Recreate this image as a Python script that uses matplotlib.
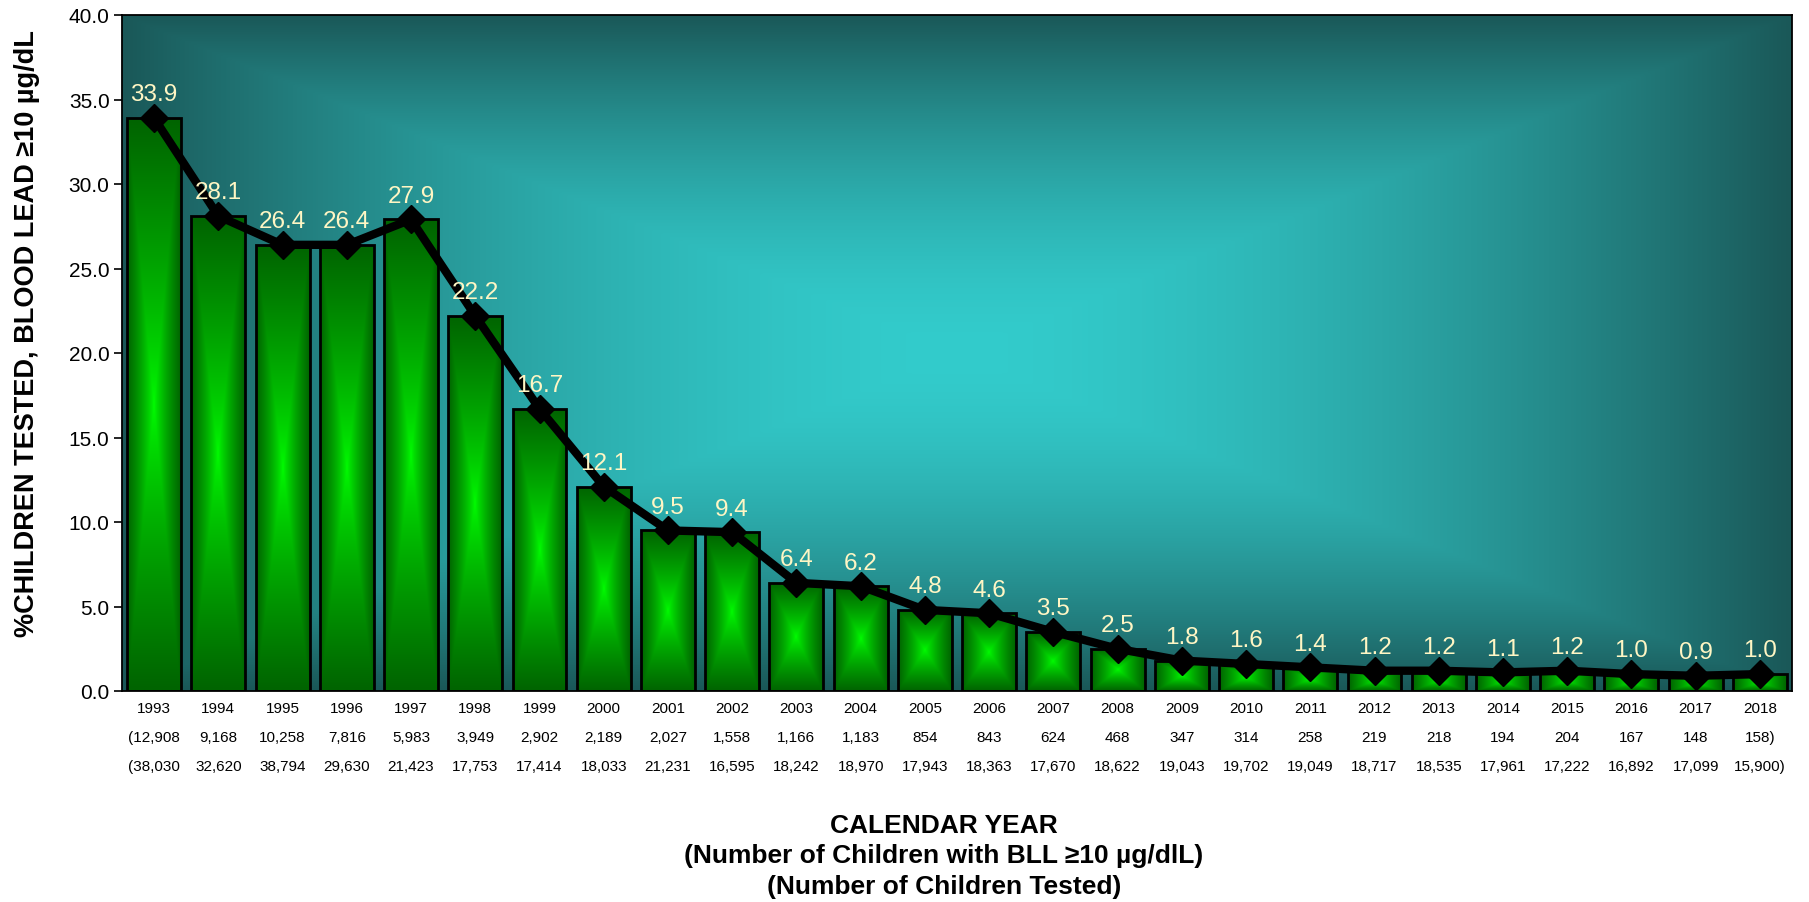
import numpy as np
import matplotlib
matplotlib.use("Agg")
import matplotlib.pyplot as plt
from matplotlib.colors import to_rgb

years = list(range(1993, 2019))
pct = [33.9, 28.1, 26.4, 26.4, 27.9, 22.2, 16.7, 12.1, 9.5, 9.4, 6.4, 6.2, 4.8,
       4.6, 3.5, 2.5, 1.8, 1.6, 1.4, 1.2, 1.2, 1.1, 1.2, 1.0, 0.9, 1.0]
n_elevated = [12908, 9168, 10258, 7816, 5983, 3949, 2902, 2189, 2027, 1558, 1166,
              1183, 854, 843, 624, 468, 347, 314, 258, 219, 218, 194, 204, 167,
              148, 158]
n_tested = [38030, 32620, 38794, 29630, 21423, 17753, 17414, 18033, 21231, 16595,
            18242, 18970, 17943, 18363, 17670, 18622, 19043, 19702, 19049, 18717,
            18535, 17961, 17222, 16892, 17099, 15900]

plt.rcParams['font.family'] = ['Liberation Sans', 'DejaVu Sans']

fig = plt.figure(figsize=(18.09, 9.03), dpi=100)
ax = fig.add_axes([122/1809, 1-692/903, 1670/1809, 676/903])

def path_gradient(nx, ny, c_center, c_edge, gamma=1.0):
    u = np.linspace(-1, 1, nx)
    v = np.linspace(-1, 1, ny)
    U, V = np.meshgrid(u, v)
    t = np.maximum(np.abs(U), np.abs(V)) ** gamma
    c0 = np.array(to_rgb(c_center))
    c1 = np.array(to_rgb(c_edge))
    return c0[None, None, :] * (1 - t[..., None]) + c1[None, None, :] * t[..., None]

# background
bg = path_gradient(400, 300, '#33CCCC', '#1A5858', gamma=1.7)
ax.imshow(bg, extent=(0, 1, 0, 1), transform=ax.transAxes, aspect='auto',
          zorder=0, interpolation='bilinear')

x = np.arange(len(years))
width = 0.84
bars = ax.bar(x, pct, width=width, facecolor='none', edgecolor='black',
              linewidth=2.0, zorder=3)
for b, xi, h in zip(bars, x, pct):
    g = path_gradient(60, 120, '#00FF00', '#006400', gamma=0.75)
    im = ax.imshow(g, extent=(xi - width/2, xi + width/2, 0, h), origin='lower',
                   aspect='auto', zorder=2, interpolation='bilinear')
    im.set_clip_path(b)

ax.plot(x, pct, color='black', lw=6, marker='D', ms=14, zorder=5,
        solid_joinstyle='round')
for xi, v in zip(x, pct):
    ax.annotate(f"{v:.1f}", (xi, v), xytext=(0, 17), textcoords='offset points',
                ha='center', va='center', color='#FFF6C4', fontsize=17.5, zorder=6)

ax.set_xlim(-0.5, len(years) - 0.5)
ax.set_ylim(0, 40)
ax.set_yticks(np.arange(0, 40.1, 5))
ax.set_yticklabels([f"{t:.1f}" for t in np.arange(0, 40.1, 5)], fontsize=15)
ax.tick_params(axis='y', direction='out', length=6, width=1.2, pad=3)

labels = []
for i, (y, a, b) in enumerate(zip(years, n_elevated, n_tested)):
    sa = f"{a:,}"
    sb = f"{b:,}"
    if i == 0:
        sa = "(" + sa
        sb = "(" + sb
    if i == len(years) - 1:
        sa = sa + ")"
        sb = sb + ")"
    labels.append(f"{y}\n{sa}\n{sb}")
ax.set_xticks(x)
ax.set_xticklabels(labels, fontsize=11, linespacing=2.38)
ax.tick_params(axis='x', length=0, pad=7)

for s in ax.spines.values():
    s.set_color('black')
    s.set_linewidth(1.3)
    s.set_zorder(7)

ax.set_ylabel("%CHILDREN TESTED, BLOOD LEAD \u226510 \u00b5g/dL", fontsize=19.5,
              fontweight='bold', va='center')
ax.yaxis.set_label_coords(-0.057, 0.53)

ax.set_xlabel("CALENDAR YEAR\n(Number of Children with BLL \u226510 \u00b5g/dlL)\n(Number of Children Tested)",
              fontsize=19, fontweight='bold', linespacing=1.33, va='top')
ax.xaxis.set_label_coords((944-122)/1670, (692-814)/676)

fig.savefig("out.png", dpi=100, facecolor='white')
